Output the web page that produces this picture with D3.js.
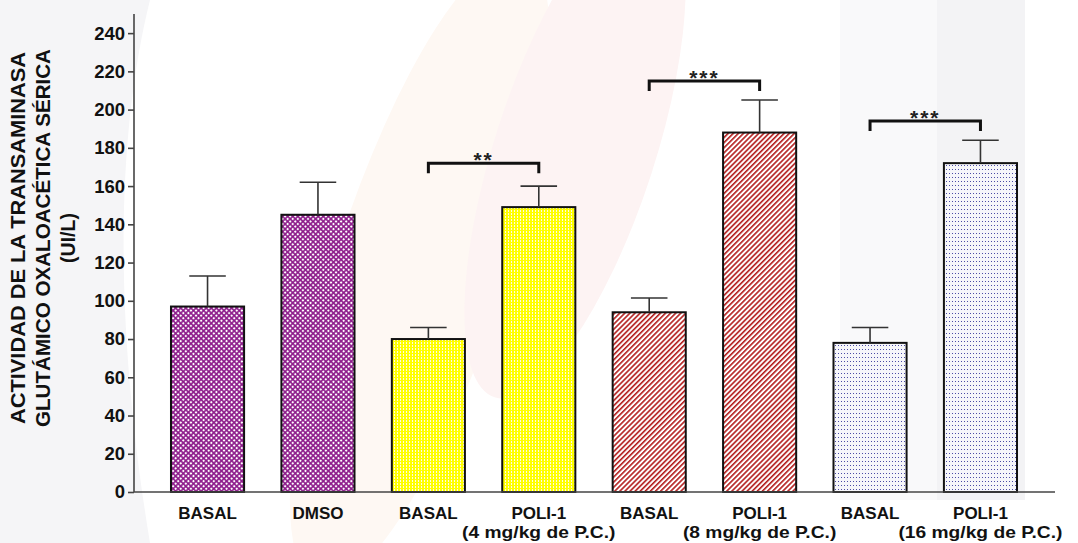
<!DOCTYPE html>
<html>
<head>
<meta charset="utf-8">
<script src="https://d3js.org/d3.v7.min.js"></script>
<style>
  body { margin: 0; background: #fff; }
  svg { display: block; font-family: "Liberation Sans", Arial, sans-serif; }
</style>
</head>
<body>
<svg id="chart" width="1078" height="543"></svg>
<script>
// datos
const categories = ["BASAL", "DMSO", "BASAL", "POLI-1", "BASAL", "POLI-1", "BASAL", "POLI-1"];
const subLabels  = ["", "", "", "(4 mg/kg de P.C.)", "", "(8 mg/kg de P.C.)", "", "(16 mg/kg de P.C.)"];
const means      = [97, 145, 80, 149, 94, 188, 78, 172];
const sem        = [16, 17, 6, 11, 7.5, 17, 8, 12];
const fills      = ["cross", "cross", "yellow", "yellow", "stripe", "stripe", "dots", "dots"];
const yTicks     = [0, 20, 40, 60, 80, 100, 120, 140, 160, 180, 200, 220, 240];
const titleLines = ["ACTIVIDAD DE LA TRANSAMINASA", "GLUTÁMICO OXALOACÉTICA SÉRICA", "(UI/L)"];

// comparaciones (indices de barra)
const compFrom  = [2, 4, 6];
const compTo    = [3, 5, 7];
const compLevel = [172, 215, 194];
const compLabel = ["**", "***", "***"];

const svg = d3.select("#chart");

// marca de agua tenue
const wm = svg.append("g");
wm.append("path")
  .attr("d", "M0,0 L150,0 C120,120 110,300 150,543 L0,543 Z")
  .attr("fill", "#f5f5f7");
wm.append("ellipse")
  .attr("cx", 420).attr("cy", 270).attr("rx", 85).attr("ry", 330)
  .attr("transform", "rotate(18,420,270)")
  .attr("fill", "#fef8f3");
wm.append("ellipse")
  .attr("cx", 575).attr("cy", 150).attr("rx", 80).attr("ry", 260)
  .attr("transform", "rotate(18,575,150)")
  .attr("fill", "#fdf3f3");
wm.append("rect")
  .attr("x", 840).attr("y", 0).attr("width", 97).attr("height", 500)
  .attr("fill", "#f9f9fa");
wm.append("rect")
  .attr("x", 937).attr("y", 0).attr("width", 88).attr("height", 500)
  .attr("fill", "#f3f3f5");

// patrones
const defs = svg.append("defs");
const pCross = defs.append("pattern").attr("id", "cross")
  .attr("patternUnits", "userSpaceOnUse").attr("width", 3.6).attr("height", 3.6)
  .attr("patternTransform", "rotate(45)");
pCross.append("rect").attr("width", 3.6).attr("height", 3.6).attr("fill", "#8c1a8a");
pCross.append("rect").attr("x", 0.8).attr("y", 0.8).attr("width", 2).attr("height", 2).attr("fill", "#fff");

const pYellow = defs.append("pattern").attr("id", "yellow")
  .attr("patternUnits", "userSpaceOnUse").attr("width", 3).attr("height", 3);
pYellow.append("rect").attr("width", 3).attr("height", 3).attr("fill", "#ffff00");
pYellow.append("rect").attr("x", 1).attr("y", 0).attr("width", 1).attr("height", 2).attr("fill", "#fffbe0");

const pStripe = defs.append("pattern").attr("id", "stripe")
  .attr("patternUnits", "userSpaceOnUse").attr("width", 3.6).attr("height", 10)
  .attr("patternTransform", "rotate(45)");
pStripe.append("rect").attr("width", 3.6).attr("height", 10).attr("fill", "#fff");
pStripe.append("rect").attr("width", 1.6).attr("height", 10).attr("fill", "#b31c1c");

const pDots = defs.append("pattern").attr("id", "dots")
  .attr("patternUnits", "userSpaceOnUse").attr("width", 3).attr("height", 4);
pDots.append("rect").attr("width", 3).attr("height", 4).attr("fill", "#f6f6fa");
pDots.append("rect").attr("x", 1).attr("y", 1).attr("width", 1).attr("height", 1).attr("fill", "#4c4ca6");

// escalas
const x = d3.scaleBand()
  .domain(d3.range(categories.length))
  .range([134, 1054])
  .paddingInner(0.338)
  .paddingOuter(0.335);

const y = d3.scaleLinear().domain([0, 250]).range([492, 14]);

// barras
svg.append("g").selectAll("rect")
  .data(means)
  .join("rect")
    .attr("x", (d, i) => x(i))
    .attr("y", d => y(d))
    .attr("width", x.bandwidth())
    .attr("height", d => y(0) - y(d))
    .attr("fill", (d, i) => `url(#${fills[i]})`)
    .attr("stroke", "#111")
    .attr("stroke-width", 2);

// barras de error
const err = svg.append("g").attr("stroke", "#333").attr("stroke-width", 1.6);
means.forEach((m, i) => {
  const cx = x(i) + x.bandwidth() / 2;
  err.append("line")
    .attr("x1", cx).attr("x2", cx)
    .attr("y1", y(m)).attr("y2", y(m + sem[i]));
  err.append("line")
    .attr("x1", cx - x.bandwidth() / 4).attr("x2", cx + x.bandwidth() / 4)
    .attr("y1", y(m + sem[i])).attr("y2", y(m + sem[i]));
});

// ejes
const yAxis = svg.append("g")
  .attr("transform", "translate(134,0)")
  .call(d3.axisLeft(y).tickValues(yTicks).tickSize(6).tickPadding(3));
yAxis.select(".domain").attr("d", `M0,${y(250)}V${y(0)}`);
yAxis.selectAll("line, path").attr("stroke", "#444").attr("stroke-width", 1.6);
yAxis.selectAll("text")
  .attr("font-size", 18.5).attr("font-weight", "bold")
  .attr("fill", "#111")
  .attr("font-family", "Liberation Sans, Arial, sans-serif");

svg.append("line")
  .attr("x1", 134).attr("x2", 1055)
  .attr("y1", y(0)).attr("y2", y(0))
  .attr("stroke", "#444").attr("stroke-width", 1.6);

// etiquetas del eje x
const xl = svg.append("g")
  .attr("font-weight", "bold").attr("font-size", 17)
  .attr("fill", "#111").attr("text-anchor", "middle");
categories.forEach((c, i) => {
  const cx = x(i) + x.bandwidth() / 2;
  xl.append("text").attr("x", cx).attr("y", 519).text(c);
  if (subLabels[i]) {
    const st = xl.append("text").attr("x", cx).attr("y", 538)
      .text(subLabels[i]);
    const w = st.node().getComputedTextLength();
    st.attr("textLength", w * 1.13).attr("lengthAdjust", "spacingAndGlyphs");
  }
});

// titulo del eje y
const lineX = [25, 50, 75];
const lineLen = [372, 378, null];
const tg = svg.append("g")
  .attr("font-weight", "bold").attr("font-size", 19.5)
  .attr("fill", "#111").attr("text-anchor", "middle");
titleLines.forEach((t, i) => {
  const tt = tg.append("text")
    .attr("transform", `translate(${lineX[i]},238) rotate(-90)`)
    .text(t);
  if (lineLen[i]) tt.attr("textLength", lineLen[i]).attr("lengthAdjust", "spacingAndGlyphs");
});

// corchetes de significancia
const br = svg.append("g");
compFrom.forEach((f, k) => {
  const x1 = x(f) + x.bandwidth() / 2;
  const x2 = x(compTo[k]) + x.bandwidth() / 2;
  const yy = y(compLevel[k]);
  br.append("path")
    .attr("d", `M${x1},${yy + 10}V${yy}H${x2}V${yy + 10}`)
    .attr("fill", "none").attr("stroke", "#111").attr("stroke-width", 3);
  br.append("text")
    .attr("x", (x1 + x2) / 2).attr("y", yy + 4)
    .attr("text-anchor", "middle")
    .attr("font-size", 21).attr("font-weight", "bold")
    .attr("letter-spacing", 2)
    .attr("fill", "#222")
    .text(compLabel[k]);
});
</script>
</body>
</html>
